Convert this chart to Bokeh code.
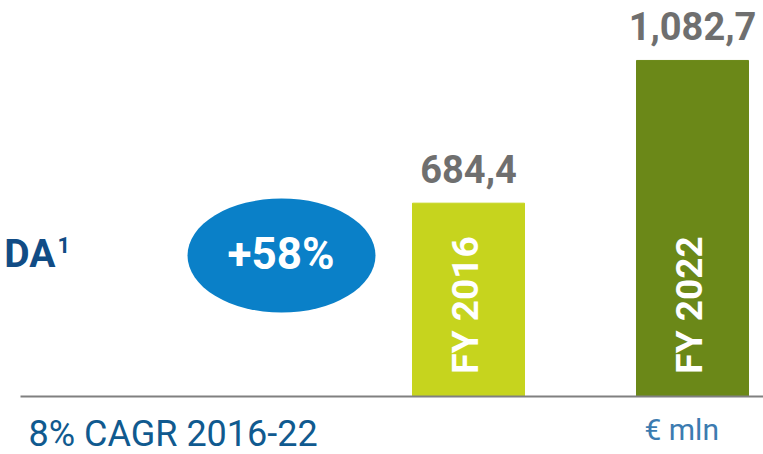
from math import pi
from bokeh.plotting import figure
from bokeh.models import Range1d, ColumnDataSource
from bokeh.core.properties import value
from bokeh.embed import file_html
from bokeh.resources import INLINE

# ---- data ----
categories = ["FY 2016", "FY 2022"]
ebitda = [684.4, 1082.7]
value_labels = ["684,4", "1,082,7"]
bar_colors = ["#C6D41E", "#6B8818"]
growth_label = "+58%"
title_part = "DA"
footnote_mark = "1"
cagr_label = "8% CAGR 2016-22"
unit_label = "€ mln"

# ---- layout helpers (picture pixels -> data) ----
W, H = 763, 454
X_UNIT = 224.0
X0 = -468.0 / X_UNIT
Y_PX = 0.3583
Y_ZERO_PAGE = 447.9
BASE = (Y_ZERO_PAGE - 396) / Y_PX
BL_FIX = 0.37  # em, baseline correction

def dx(px):
    return X0 + px / X_UNIT

def dy(py):
    return (Y_ZERO_PAGE - py) / Y_PX

def dyb(py, fs):
    return dy(py - BL_FIX * fs)

p = figure(width=W, height=H, output_backend="svg", toolbar_location=None,
           x_range=Range1d(X0, X0 + W / X_UNIT),
           y_range=Range1d(dy(H), dy(0)),
           min_border=0, outline_line_color=None)
p.axis.visible = False
p.grid.visible = False
p.background_fill_color = "white"
p.border_fill_color = "white"

xs = list(range(len(categories)))
src = ColumnDataSource(dict(x=xs, top=ebitda, lab_y=[v + (20.5 + BL_FIX * 38) / Y_PX for v in ebitda],
                            lab=value_labels, cat=categories, color=bar_colors))

p.vbar(x="x", top="top", bottom=BASE, width=0.5, color="color", source=src)
p.line(x=[dx(20), X0 + W / X_UNIT], y=[BASE, BASE], line_color="#808080", line_width=2)

p.text(x="x", y="lab_y", text="lab", source=src, text_align="center", text_baseline="alphabetic",
       text_font=value("Roboto"), text_font_style="bold",
       text_font_size="38px", text_color="#6F6F6F")

p.text(x="x", y=dy(304.5), text="cat", source=src, angle=pi / 2, text_align="center",
       text_baseline="middle", x_offset=-3, text_font=value("Roboto"), text_font_style="bold",
       text_font_size="37px", text_color="white")

p.ellipse(x=[dx(281)], y=[dy(255)], width=188, height=114, width_units="screen",
          height_units="screen", fill_color="#0A80C8", line_color=None)
p.text(x=[dx(280.5)], y=[dyb(270, 44)], text=[growth_label], text_align="center",
       text_baseline="alphabetic", text_font=value("Roboto"), text_font_style="bold",
       text_font_size="44px", text_color="white")

p.text(x=[dx(55)], y=[dyb(268, 39)], text=[title_part], text_align="right", text_baseline="alphabetic",
       text_font=value("Roboto"), text_font_style="bold", text_font_size="39px",
       text_color="#114C85")
p.text(x=[dx(57)], y=[dyb(253, 22)], text=[footnote_mark], text_align="left", text_baseline="alphabetic",
       text_font=value("Roboto"), text_font_style="bold", text_font_size="22px",
       text_color="#114C85")

p.text(x=[dx(28)], y=[dyb(447, 36)], text=[cagr_label], text_align="left", text_baseline="alphabetic",
       text_font=value("Roboto"), text_font_size="36px", text_color="#105A8F")
p.text(x=[dx(644)], y=[dyb(440, 30)], text=[unit_label], text_align="left", text_baseline="alphabetic",
       text_font=value("Roboto"), text_font_size="30px", text_color="#3C7BB0")

open("out.html", "w").write(file_html(p, INLINE))
